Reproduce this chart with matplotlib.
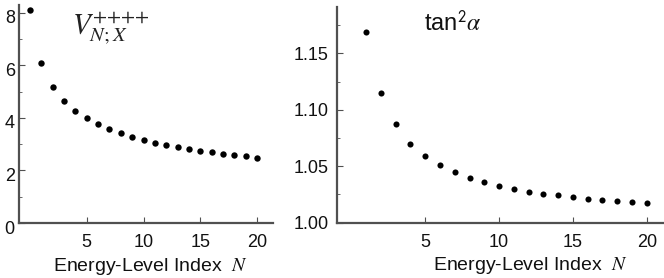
import matplotlib
matplotlib.use("Agg")
import matplotlib.pyplot as plt
import matplotlib.transforms as mtransforms
import numpy as np

plt.rcParams['font.family'] = ['Liberation Sans', 'DejaVu Sans']
plt.rcParams['mathtext.fontset'] = 'stix'

# Left panel: V_{N;X}^{++++}
n_left = list(range(0, 21))
v_left = [8.10, 6.07, 5.16, 4.64, 4.27, 3.98, 3.75, 3.57, 3.41, 3.28, 3.16,
          3.05, 2.98, 2.89, 2.81, 2.74, 2.69, 2.63, 2.59, 2.54, 2.48]
left_yticks = [0, 2, 4, 6, 8]
left_xticks = [5, 10, 15, 20]

# Right panel: tan^2 alpha
n_right = list(range(1, 21))
t_right = [1.169, 1.1146, 1.087, 1.0697, 1.0588, 1.0508, 1.0446, 1.0396, 1.0357,
           1.0328, 1.0298, 1.0275, 1.0257, 1.0242, 1.0224, 1.0213, 1.0201,
           1.0192, 1.0183, 1.0174]
right_yticks = [1.00, 1.05, 1.10, 1.15]
right_ylabels = ['1.00', '1.05', '1.10', '1.15']
right_xticks = [5, 10, 15, 20]

W, H = 664, 278
fig = plt.figure(figsize=(W / 100, H / 100), dpi=100)

axcol = '#505050'
txtcol = '#111111'

def style(ax):
    for s in ['top', 'right']:
        ax.spines[s].set_visible(False)
    for s in ['left', 'bottom']:
        ax.spines[s].set_color(axcol)
        ax.spines[s].set_linewidth(1.6)
    ax.tick_params(which='major', direction='in', length=4, width=0.8,
                   color=axcol, labelsize=13, labelcolor=txtcol)
    ax.tick_params(which='minor', direction='in', length=2, width=0.6, color=axcol)

ax1 = fig.add_axes([19 / W, 1 - 223 / H, 254 / W, 218 / H])
ax1.plot(n_left, v_left, 'o', color='black', ms=4.6, mec='none')
ax1.set_xlim(-0.97, 21.4)
ax1.set_ylim(0, 8.29)
ax1.set_xticks(left_xticks)
ax1.set_yticks(left_yticks)
ax1.set_yticks([1, 3, 5, 7], minor=True)
style(ax1)
ax1.tick_params(axis='y', pad=3)
ax1.tick_params(axis='x', pad=8)
shift = mtransforms.ScaledTranslation(0, -4 / 100, fig.dpi_scale_trans)
for lab in ax1.get_yticklabels():
    lab.set_transform(lab.get_transform() + shift)
ax1.set_xlabel(r'Energy-Level Index  $N$', fontsize=14, color=txtcol)
ax1.xaxis.set_label_coords(0.516, -0.15)
ax1.text(53 / 254, 1 - 29 / 218, r'$V_{N;X}^{{+}{+}{+}{+}}$', transform=ax1.transAxes,
         fontsize=21, ha='left', va='baseline', color='#222222')

ax2 = fig.add_axes([337.3 / W, 1 - 222.7 / H, 325.7 / W, 215.7 / H])
ax2.plot(n_right, t_right, 'o', color='black', ms=4.4, mec='none')
ax2.set_xlim(-0.95, 21.1)
ax2.set_ylim(1.0, 1.191)
ax2.set_xticks(right_xticks)
ax2.set_yticks(right_yticks)
ax2.set_yticklabels(right_ylabels)
ax2.set_yticks([1.025, 1.075, 1.125, 1.175], minor=True)
style(ax2)
ax2.tick_params(axis='y', pad=6)
ax2.tick_params(axis='x', pad=8)
ax2.set_xlabel(r'Energy-Level Index  $N$', fontsize=14, color=txtcol)
ax2.xaxis.set_label_coords(0.592, -0.15)
ax2.text((424 - 337.3) / 325.7, 1 - (31 - 7) / 215.7, r'tan$^{\mathsf{2}}\alpha$',
         transform=ax2.transAxes, fontsize=17, ha='left', va='baseline',
         color=txtcol)

fig.savefig('out.png', dpi=100)
